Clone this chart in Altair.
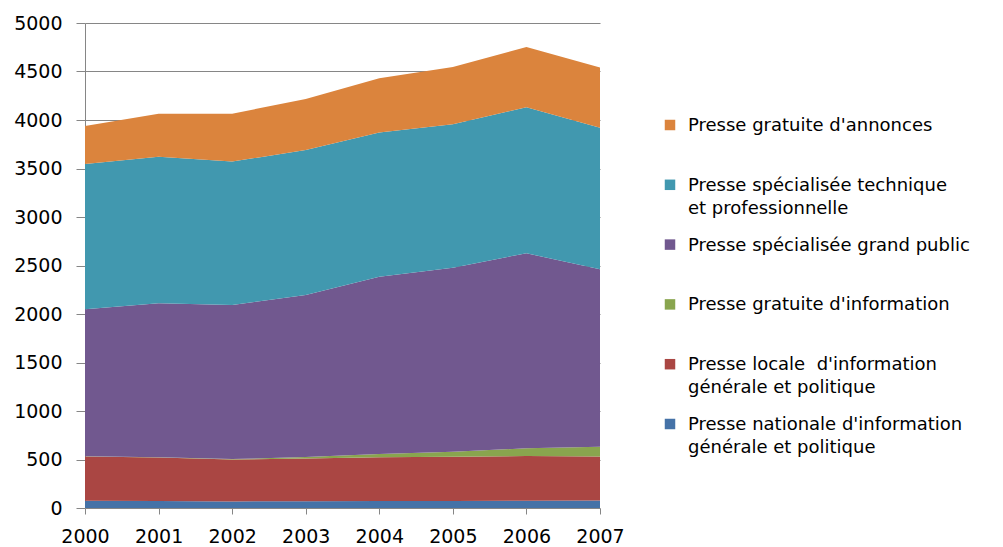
import altair as alt
import pandas as pd

years = [2000, 2001, 2002, 2003, 2004, 2005, 2006, 2007]

series_names = [
    "Presse nationale d'information\ngénérale et politique",
    "Presse locale \u00a0d'information\ngénérale et politique",
    "Presse gratuite d'information",
    "Presse spécialisée grand public",
    "Presse spécialisée technique\net professionnelle",
    "Presse gratuite d'annonces",
]

nationale = [75, 73, 68, 70, 72, 72, 76, 78]
locale = [455, 447, 432, 440, 450, 456, 459, 452]
gratuite_info = [3, 3, 5, 15, 35, 52, 80, 102]
grand_public = [1515, 1587, 1588, 1671, 1828, 1898, 2011, 1829]
technique = [1498, 1512, 1478, 1495, 1485, 1477, 1505, 1460]
annonces = [392, 443, 494, 526, 560, 592, 621, 619]

colors = ["#4572A7", "#AA4643", "#89A54E", "#71588F", "#4198AF", "#DB843D"]

all_series = [nationale, locale, gratuite_info, grand_public, technique, annonces]

rows = []
for i, (name, vals) in enumerate(zip(series_names, all_series)):
    for y, v in zip(years, vals):
        rows.append({"year": y, "value": v, "serie": name, "idx": i})
df = pd.DataFrame(rows)

FONT = "DejaVu Sans"

color_scale = alt.Scale(domain=series_names, range=colors)
no_stroke = alt.ViewBackground(stroke="transparent", strokeWidth=0)

area = alt.Chart(df).mark_area(opacity=1).encode(
    x=alt.X("year:Q",
            scale=alt.Scale(domain=[2000, 2007], nice=False, zero=False),
            axis=alt.Axis(values=years, format="d", title=None, grid=False,
                          labelFont=FONT, labelFontSize=19, labelColor="#000000",
                          tickColor="#868686", tickSize=6, labelPadding=13,
                          domain=False, labelFlush=False)),
    y=alt.Y("value:Q", stack="zero",
            scale=alt.Scale(domain=[0, 5000], nice=False),
            axis=alt.Axis(values=list(range(0, 5001, 500)), format="d", title=None,
                          labelFont=FONT, labelFontSize=19, labelColor="#000000",
                          tickColor="#868686", tickSize=9, labelPadding=14,
                          gridColor="#868686", gridWidth=1,
                          domainColor="#868686")),
    color=alt.Color("serie:N", scale=color_scale, legend=None),
    order=alt.Order("idx:Q", sort="ascending"),
).properties(width=515, height=485, view=no_stroke)

legend_order = list(reversed(series_names))
leg_df = pd.DataFrame({"serie": legend_order, "label": legend_order})

ysc = alt.Scale(domain=legend_order, range=[102, 401], padding=0)

swatch = alt.Chart(leg_df).mark_square(size=110, opacity=1).encode(
    x=alt.value(70),
    y=alt.Y("serie:N", scale=ysc, axis=None),
    color=alt.Color("serie:N", scale=color_scale, legend=None),
)
labels = alt.Chart(leg_df).mark_text(
    align="left", baseline="alphabetic", dy=6, font=FONT, fontSize=18,
    lineBreak="\n", lineHeight=23, color="#000000"
).encode(
    x=alt.value(88),
    y=alt.Y("serie:N", scale=ysc, axis=None),
    text="label:N",
)
legend = alt.layer(swatch, labels).properties(width=395, height=485, view=no_stroke)

chart = alt.hconcat(area, legend, spacing=0, bounds="flush").properties(
    padding={"left": 5, "top": 6, "right": 0, "bottom": 0}
).configure_view(stroke="transparent", strokeWidth=0).configure(background="#ffffff")

chart.save("out.html", embed_options={"renderer": "svg", "actions": False})
